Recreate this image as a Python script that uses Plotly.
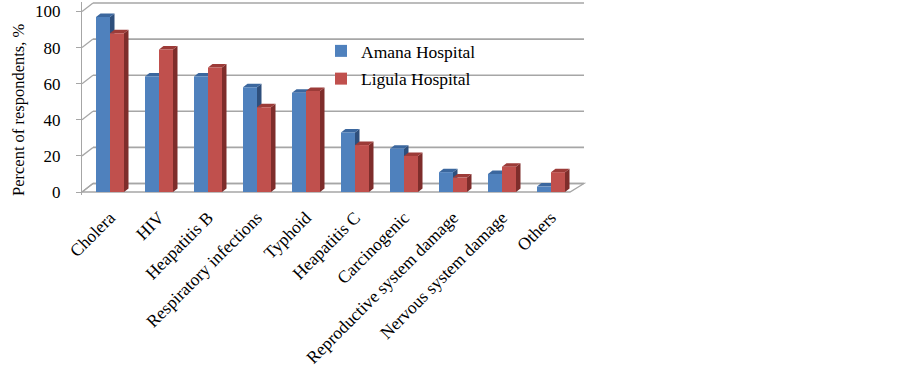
import plotly.graph_objects as go

categories = ["Cholera", "HIV", "Heapatitis B", "Respiratory infections", "Typhoid",
              "Heapatitis C", "Carcinogenic", "Reproductive system damage",
              "Nervous system damage", "Others"]
amana = [97, 64, 64, 58, 55, 33, 24, 11, 10, 3]
ligula = [88, 79, 69, 47, 56, 26, 20, 8, 14, 11]
y_ticks = [0, 20, 40, 60, 80, 100]

# ---- pixel geometry helpers (layout only) ----
W, H = 903, 372
L, R, T, B = 82, 590, 2, 195
X0PX, XSTEP = 110, 49.0
Y0PX, YSCALE = 192, 1.805
xr_range = [(L - X0PX) / XSTEP, (R - X0PX) / XSTEP]
yr_range = [-(B - Y0PX) / YSCALE, (Y0PX - T) / YSCALE]
SERIF = "Liberation Serif"


def dxu(px):
    return px / XSTEP


def dyu(px):
    return px / YSCALE


def xpx(px):
    return (px - X0PX) / XSTEP


def paper_x(px):
    return (px - L) / (R - L)


def paper_y(py):
    return (B - py) / (B - T)


BAR_W = 14 / XSTEP
DEPTH_X, DEPTH_Y = dxu(4.5), dyu(3.5)
WALL_X, WALL_Y = 11, 8.5  # back-wall offset in px
GRID = "#A6A6A6"

series = [
    ("Amana Hospital", amana, "#4F81BD", "#2E4F7C", "#3B679E", -BAR_W),
    ("Ligula Hospital", ligula, "#C0504D", "#7E2D2B", "#9C3B38", 0.0),
]

fig = go.Figure()
for gi, (name, vals, front, side, top, off) in enumerate(series):
    fig.add_trace(go.Bar(
        x=list(range(len(categories))), y=vals, name=name,
        marker=dict(color=front, line=dict(width=0)),
        legendgroup=f"g{gi}", hoverinfo="skip",
    ))

shapes = []
fl = f"M{xpx(L)},0 L{xpx(570)},0 L{xpx(584)},{dyu(WALL_Y)} L{xpx(L + WALL_X)},{dyu(WALL_Y)} Z"
shapes.append(dict(type="path", path=fl, xref="x", yref="y", layer="below",
                   line=dict(color=GRID, width=1.3), fillcolor="white"))
for v in y_ticks:
    shapes.append(dict(type="line", xref="x", yref="y", layer="below",
                       x0=xpx(L + WALL_X), x1=xpx(584), y0=v + dyu(WALL_Y), y1=v + dyu(WALL_Y),
                       line=dict(color=GRID, width=1.6)))
    shapes.append(dict(type="line", xref="x", yref="y", layer="below",
                       x0=xpx(L), x1=xpx(L + WALL_X), y0=v, y1=v + dyu(WALL_Y),
                       line=dict(color=GRID, width=1.3)))

for name, vals, front, side, top, off in series:
    for i, v in enumerate(vals):
        xl = i + off
        xr = xl + BAR_W
        shapes.append(dict(type="path", xref="x", yref="y", layer="below",
                           path=f"M{xr},0 L{xr},{v} L{xr + DEPTH_X},{v + DEPTH_Y} L{xr + DEPTH_X},{DEPTH_Y} Z",
                           fillcolor=side, line=dict(width=0)))
        shapes.append(dict(type="path", xref="x", yref="y", layer="below",
                           path=f"M{xl},{v} L{xr},{v} L{xr + DEPTH_X},{v + DEPTH_Y} L{xl + DEPTH_X},{v + DEPTH_Y} Z",
                           fillcolor=top, line=dict(width=0)))

fig.update_layout(
    width=W, height=H,
    margin=dict(l=L, r=W - R, t=T, b=H - B, pad=0, autoexpand=False),
    paper_bgcolor="white", plot_bgcolor="rgba(0,0,0,0)",
    barmode="group", bargap=1 - 2 * BAR_W, bargroupgap=0,
    font=dict(family=SERIF, color="black"),
    shapes=shapes,
    showlegend=True,
    legend=dict(x=paper_x(321), y=paper_y(33), xanchor="left", yanchor="top",
                font=dict(family=SERIF, size=17.5, color="black"),
                bgcolor="rgba(0,0,0,0)", traceorder="grouped", tracegroupgap=2),
    xaxis=dict(range=xr_range, automargin=False,
               tickmode="array", tickvals=list(range(len(categories))), ticktext=categories,
               tickangle=-45, tickfont=dict(family=SERIF, size=17.5, color="black"),
               ticklabelstandoff=8,
               showgrid=False, zeroline=False, showline=False, ticks=""),
    yaxis=dict(range=yr_range, tickmode="array", tickvals=y_ticks, automargin=False,
               tickfont=dict(family=SERIF, size=17, color="black"),
               showgrid=False, zeroline=False, showline=True, linecolor=GRID, linewidth=1.3,
               ticks="outside", ticklen=5, tickcolor=GRID, ticklabelstandoff=12),
    annotations=[dict(text="Percent of respondents, %", textangle=-90,
                      x=paper_x(18), y=paper_y(110), xref="paper", yref="paper",
                      xanchor="center", yanchor="middle", showarrow=False,
                      font=dict(family=SERIF, size=16.5, color="black"))],
)

fig.write_html("out.html", config={"displayModeBar": False},
               post_script="document.body.style.margin='0';")
